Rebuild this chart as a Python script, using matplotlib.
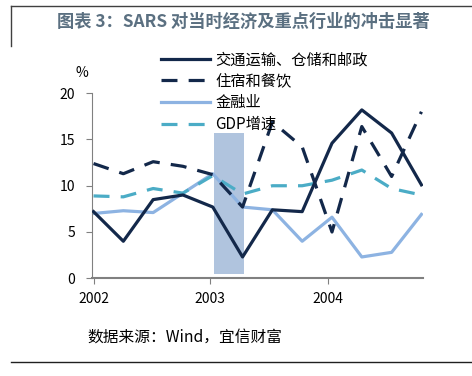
import matplotlib.pyplot as plt
from matplotlib.lines import Line2D

plt.rcParams['font.family'] = ['Noto Sans CJK SC', 'DejaVu Sans']

# 季度数据（2002Q1 - 2004Q4），单位 %
quarters = list(range(12))
transport = [7.2, 4.0, 8.5, 9.0, 7.7, 2.3, 7.4, 7.2, 14.6, 18.2, 15.7, 10.1]
hotel = [12.4, 11.3, 12.6, 12.1, 11.2, 7.7, 16.9, 14.2, 5.0, 16.4, 11.0, 18.0]
finance = [7.0, 7.3, 7.1, 9.2, 11.3, 7.7, 7.4, 4.0, 6.6, 2.3, 2.8, 6.9]
gdp = [8.9, 8.8, 9.7, 9.2, 11.1, 9.1, 10.0, 10.0, 10.6, 11.7, 9.7, 9.0]

labels = ["交通运输、仓储和邮政", "住宿和餐饮", "金融业", "GDP增速"]
year_ticks = [0, 3.9, 7.85]
year_labels = ["2002", "2003", "2004"]

# SARS 时期阴影
sars_x = 4.55
sars_w = 1.0
sars_low, sars_high = 0.5, 15.7

navy = '#13284a'
light = '#8db3e2'
teal = '#4bacc6'

fig = plt.figure(figsize=(4.72, 3.76), dpi=100)
ax = fig.add_axes([0.195, 0.26, 0.701, 0.492])

ax.bar(sars_x, sars_high - sars_low, width=sars_w, bottom=sars_low,
       color='#b0c4de', zorder=1)

lw = 2.3
l1, = ax.plot(quarters, transport, color=navy, lw=lw, zorder=3)
l2, = ax.plot(quarters, hotel, color=navy, lw=lw, dashes=(5, 3.5), zorder=3)
l3, = ax.plot(quarters, finance, color=light, lw=lw, zorder=2)
l4, = ax.plot(quarters, gdp, color=teal, lw=lw, dashes=(5, 3.5), zorder=2)

ax.set_xlim(-0.05, 11.05)
ax.set_ylim(0, 20)
ax.set_yticks([0, 5, 10, 15, 20])
ax.set_xticks(year_ticks)
ax.set_xticklabels(year_labels)
ax.tick_params(axis='both', labelsize=10, color='#808080', length=4)
ax.tick_params(axis='y', pad=8)
ax.tick_params(axis='x', pad=6)
for s in ['top', 'right']:
    ax.spines[s].set_visible(False)
ax.spines['left'].set_color('#808080')
ax.spines['bottom'].set_color('#808080')
ax.spines['bottom'].set_linewidth(1.5)

fig.text(82 / 472, 1 - 73 / 376, '%', fontsize=10, ha='center', va='center')

fig.legend([l1, l2, l3, l4], labels, loc='upper left',
           bbox_to_anchor=(155 / 472, 1 - 45 / 376), frameon=False,
           fontsize=11, handlelength=3.2, handletextpad=0.35, labelspacing=0.3,
           borderaxespad=0)

fig.text(243 / 472, 1 - 22 / 376, '图表 3：SARS 对当时经济及重点行业的冲击显著',
         fontsize=12.4, fontweight='bold', color='#5b7081', ha='center', va='center')

fig.text(87 / 472, 1 - 337 / 376, '数据来源：Wind，宜信财富', fontsize=11.3,
         style='italic', ha='left', va='center')

# 边框线
fig.add_artist(Line2D([11 / 472, 1], [1 - 6 / 376, 1 - 6 / 376], color='#404040', lw=1))
fig.add_artist(Line2D([11 / 472, 11 / 472], [1 - 6 / 376, 1 - 46 / 376], color='#404040', lw=1))
fig.add_artist(Line2D([11 / 472, 1], [1 - 362 / 376, 1 - 362 / 376], color='#202020', lw=1))

fig.savefig('out.png', dpi=100)
